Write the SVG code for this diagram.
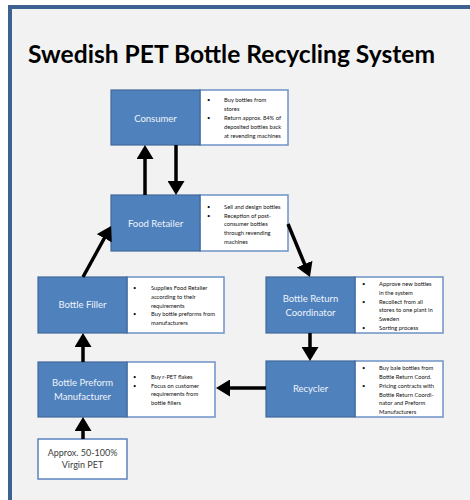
<svg xmlns="http://www.w3.org/2000/svg" width="470" height="500" viewBox="0 0 470 500">
<defs>
<style>
.frame{fill:#f2f2f2;stroke:#3d6190;stroke-width:4}
.blue{fill:#4f81bd;stroke:#41699a;stroke-width:1.2}
.info{fill:#ffffff;stroke:#6f93c6;stroke-width:1.5}
.plain{fill:#ffffff;stroke:#5b83bd;stroke-width:1.5}
.title{font-family:"Lato","Liberation Sans",sans-serif;font-weight:bold;font-size:24px;fill:#000}
.lbl{font-family:"Lato","Liberation Sans",sans-serif;font-size:9.5px;fill:#eef3fa;text-anchor:middle}
.txt{font-family:"Lato","Liberation Sans",sans-serif;font-size:5.8px;fill:#111}
.vp{font-family:"Lato","Liberation Sans",sans-serif;font-size:9px;fill:#404040;text-anchor:middle}
.con{stroke:#000;stroke-width:3.5;fill:none;marker-end:url(#ah)}
</style>
<marker id="ah" viewBox="0 0 14 17" refX="6" refY="8.5" markerWidth="14" markerHeight="17" markerUnits="userSpaceOnUse" orient="auto">
<path d="M0,0 L14,8.5 L0,17 z" fill="#000"/>
</marker>
</defs>
<rect x="0" y="0" width="470" height="500" fill="#ffffff"/>
<rect class="frame" x="10" y="7" width="480" height="510"/>
<text class="title" x="28" y="63" textLength="407" lengthAdjust="spacingAndGlyphs">Swedish PET Bottle Recycling System</text>

<g id="consumer">
<rect class="info" x="200" y="90" width="88" height="55"/>
<rect class="blue" x="111" y="90" width="89" height="55"/>
<text class="lbl" x="155.5" y="121.5">Consumer</text>
<text class="txt"><tspan x="207" y="102">•</tspan><tspan x="224" y="102">Buy bottles from</tspan><tspan x="224" y="111">stores</tspan><tspan x="207" y="120">•</tspan><tspan x="224" y="120">Return approx. 84% of</tspan><tspan x="224" y="129">deposited bottles back</tspan><tspan x="224" y="137.5">at revending machines</tspan></text>
</g>

<g id="food-retailer">
<rect class="info" x="200" y="195" width="88" height="56"/>
<rect class="blue" x="111" y="195" width="89" height="56"/>
<text class="lbl" x="155.5" y="227">Food Retailer</text>
<text class="txt"><tspan x="207" y="209">•</tspan><tspan x="224" y="209">Sell and design bottles</tspan><tspan x="207" y="217.5">•</tspan><tspan x="224" y="217.5">Reception of post-</tspan><tspan x="224" y="226">consumer bottles</tspan><tspan x="224" y="235">through revending</tspan><tspan x="224" y="243.5">machines</tspan></text>
</g>

<g id="bottle-return-coordinator">
<rect class="info" x="355" y="277" width="88" height="56"/>
<rect class="blue" x="266" y="277" width="89" height="56"/>
<text class="lbl"><tspan x="310.5" y="302">Bottle Return</tspan><tspan x="310.5" y="316">Coordinator</tspan></text>
<text class="txt"><tspan x="362" y="286">•</tspan><tspan x="379" y="286">Approve new bottles</tspan><tspan x="379" y="295">in the system</tspan><tspan x="362" y="303.5">•</tspan><tspan x="379" y="303.5">Recollect from all</tspan><tspan x="379" y="312">stores to one plant in</tspan><tspan x="379" y="321">Sweden</tspan><tspan x="362" y="329.5">•</tspan><tspan x="379" y="329.5">Sorting process</tspan></text>
</g>

<g id="recycler">
<rect class="info" x="355" y="361" width="88" height="56"/>
<rect class="blue" x="266" y="361" width="89" height="56"/>
<text class="lbl" x="310.5" y="392">Recycler</text>
<text class="txt"><tspan x="362" y="370">•</tspan><tspan x="379" y="370">Buy bale bottles from</tspan><tspan x="379" y="379">Bottle Return Coord.</tspan><tspan x="362" y="388">•</tspan><tspan x="379" y="388">Pricing contracts with</tspan><tspan x="379" y="396.5">Bottle Return Coordi-</tspan><tspan x="379" y="405">nator and Preform</tspan><tspan x="379" y="414">Manufacturers</tspan></text>
</g>

<g id="bottle-filler">
<rect class="info" x="127" y="277" width="97" height="56"/>
<rect class="blue" x="38" y="277" width="89" height="56"/>
<text class="lbl" x="82.5" y="308">Bottle Filler</text>
<text class="txt"><tspan x="133" y="290">•</tspan><tspan x="151" y="290">Supplies Food Retailer</tspan><tspan x="151" y="299">according to their</tspan><tspan x="151" y="307.5">requirements</tspan><tspan x="133" y="316">•</tspan><tspan x="151" y="316">Buy bottle preforms from</tspan><tspan x="151" y="324.5">manufacturers</tspan></text>
</g>

<g id="bottle-preform-manufacturer">
<rect class="info" x="127" y="362" width="88" height="55"/>
<rect class="blue" x="38" y="362" width="89" height="55"/>
<text class="lbl"><tspan x="82.5" y="386">Bottle Preform</tspan><tspan x="82.5" y="400">Manufacturer</tspan></text>
<text class="txt"><tspan x="133" y="379">•</tspan><tspan x="151" y="379">Buy r-PET flakes</tspan><tspan x="133" y="387.5">•</tspan><tspan x="151" y="387.5">Focus on customer</tspan><tspan x="151" y="396">requirements from</tspan><tspan x="151" y="405">bottle fillers</tspan></text>
</g>

<g id="virgin-pet">
<rect class="plain" x="38" y="439" width="89" height="40"/>
<text class="vp"><tspan x="82.5" y="456">Approx. 50-100%</tspan><tspan x="82.5" y="468">Virgin PET</tspan></text>
</g>

<g id="connectors">
<line class="con" x1="145" y1="195" x2="145" y2="153"/>
<line class="con" x1="176" y1="145" x2="176" y2="187"/>
<line class="con" x1="83" y1="277" x2="107.2" y2="233"/>
<line class="con" x1="288" y1="224" x2="306.9" y2="269.6"/>
<line class="con" x1="310" y1="333" x2="310" y2="353"/>
<line class="con" x1="266" y1="388" x2="224" y2="388"/>
<line class="con" x1="83" y1="362" x2="83" y2="341"/>
<line class="con" x1="83" y1="439" x2="83" y2="425"/>
</g>
</svg>
